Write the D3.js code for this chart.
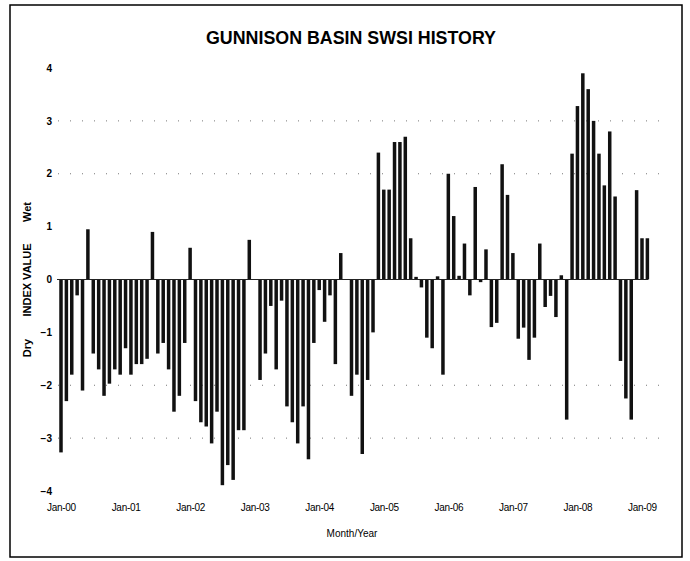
<!DOCTYPE html>
<html>
<head>
<meta charset="utf-8">
<script src="https://cdn.jsdelivr.net/npm/d3@7"></script>
<style>
  body { margin: 0; background: #fff; }
  svg text { font-family: "Liberation Sans", Arial, sans-serif; fill: #000; }
</style>
</head>
<body>
<svg width="690" height="561"></svg>
<script>
// SWSI values, one per month, Jan of each year first
var swsi2000 = [-3.27, -2.3, -1.8, -0.3, -2.1, 0.95, -1.4, -1.7, -2.2, -1.97, -1.7, -1.8];
var swsi2001 = [-1.3, -1.8, -1.6, -1.6, -1.5, 0.9, -1.4, -1.2, -1.7, -2.5, -2.2, -1.2];
var swsi2002 = [0.6, -2.3, -2.7, -2.78, -3.1, -2.5, -3.89, -3.51, -3.79, -2.85, -2.85, 0.75];
var swsi2003 = [0, -1.9, -1.4, -0.5, -1.7, -0.4, -2.4, -2.7, -3.1, -2.4, -3.4, -1.2];
var swsi2004 = [-0.2, -0.8, -0.3, -1.6, 0.5, 0, -2.2, -1.8, -3.3, -1.9, -1.0, 2.4];
var swsi2005 = [1.7, 1.7, 2.6, 2.6, 2.7, 0.78, 0.05, -0.15, -1.1, -1.3, 0.06, -1.8];
var swsi2006 = [2.0, 1.2, 0.07, 0.68, -0.3, 1.75, -0.05, 0.57, -0.9, -0.82, 2.18, 1.6];
var swsi2007 = [0.5, -1.12, -0.91, -1.52, -1.1, 0.68, -0.52, -0.31, -0.71, 0.08, -2.65, 2.38];
var swsi2008 = [3.28, 3.9, 3.6, 3.0, 2.38, 1.78, 2.8, 1.57, -1.54, -2.25, -2.65, 1.69];
var swsi2009 = [0.78, 0.78];

var yearLabels = ["Jan-00", "Jan-01", "Jan-02", "Jan-03", "Jan-04", "Jan-05", "Jan-06", "Jan-07", "Jan-08", "Jan-09"];
var yTicks = [4, 3, 2, 1, 0, -1, -2, -3, -4];
var gridValues = [3, 2, -2, -3];

var values = [].concat(swsi2000, swsi2001, swsi2002, swsi2003, swsi2004,
                       swsi2005, swsi2006, swsi2007, swsi2008, swsi2009);

var svg = d3.select("svg");

// outer frame
svg.append("rect")
    .attr("x", 10).attr("y", 5)
    .attr("width", 672).attr("height", 552)
    .attr("fill", "none")
    .attr("stroke", "#000")
    .attr("stroke-width", 1.5);

var x = d3.scaleLinear().domain([0, 108]).range([61, 642]);
var y = d3.scaleLinear().domain([-4, 4]).range([491, 68]);

// faint dotted gridlines
svg.append("g")
    .selectAll("line")
    .data(gridValues)
    .enter().append("line")
    .attr("x1", 58).attr("x2", 660)
    .attr("y1", function(d) { return y(d); })
    .attr("y2", function(d) { return y(d); })
    .attr("stroke", "#777")
    .attr("stroke-width", 1)
    .attr("stroke-dasharray", "1,11");

// bars
svg.append("g")
    .selectAll("rect")
    .data(values)
    .enter().append("rect")
    .attr("x", function(d, i) { return x(i) - 1.75; })
    .attr("width", 3.5)
    .attr("y", function(d) { return y(Math.max(0, d)); })
    .attr("height", function(d) { return Math.abs(y(d) - y(0)); })
    .attr("fill", "#111");

// zero line
svg.append("line")
    .attr("x1", 57).attr("x2", 648)
    .attr("y1", y(0)).attr("y2", y(0))
    .attr("stroke", "#222")
    .attr("stroke-width", 1);

// y axis
var yAxis = svg.append("g")
    .attr("transform", "translate(57,0)")
    .call(d3.axisLeft(y).tickValues(yTicks).tickSize(0).tickPadding(5).tickFormat(d3.format("d")));
yAxis.select(".domain").remove();
yAxis.selectAll("text")
    .style("font-size", "10px")
    .style("font-weight", "bold");

// x axis labels under the plot
var xAxis = svg.append("g")
    .attr("transform", "translate(0,495)")
    .call(d3.axisBottom(x)
        .tickValues(d3.range(0, 109, 12))
        .tickSize(0)
        .tickPadding(9)
        .tickFormat(function(d, i) { return yearLabels[i]; }));
xAxis.select(".domain").remove();
xAxis.selectAll("text")
    .style("font-size", "10px")
    .attr("letter-spacing", "-0.3");

// title
svg.append("text")
    .attr("x", 351).attr("y", 44)
    .attr("text-anchor", "middle")
    .attr("textLength", 290)
    .attr("lengthAdjust", "spacingAndGlyphs")
    .style("font-size", "18px")
    .style("font-weight", "bold")
    .text("GUNNISON BASIN SWSI HISTORY");

// x axis title
svg.append("text")
    .attr("x", 352).attr("y", 537)
    .attr("text-anchor", "middle")
    .style("font-size", "10px")
    .text("Month/Year");

// y axis titles (rotated)
var yTitles = [
  { text: "Wet", pos: 212 },
  { text: "INDEX VALUE", pos: 280 },
  { text: "Dry", pos: 348 }
];
svg.append("g")
    .selectAll("text")
    .data(yTitles)
    .enter().append("text")
    .attr("transform", function(d) { return "translate(31," + d.pos + ") rotate(-90)"; })
    .attr("text-anchor", "middle")
    .style("font-size", "11px")
    .style("font-weight", "bold")
    .text(function(d) { return d.text; });
</script>
</body>
</html>
